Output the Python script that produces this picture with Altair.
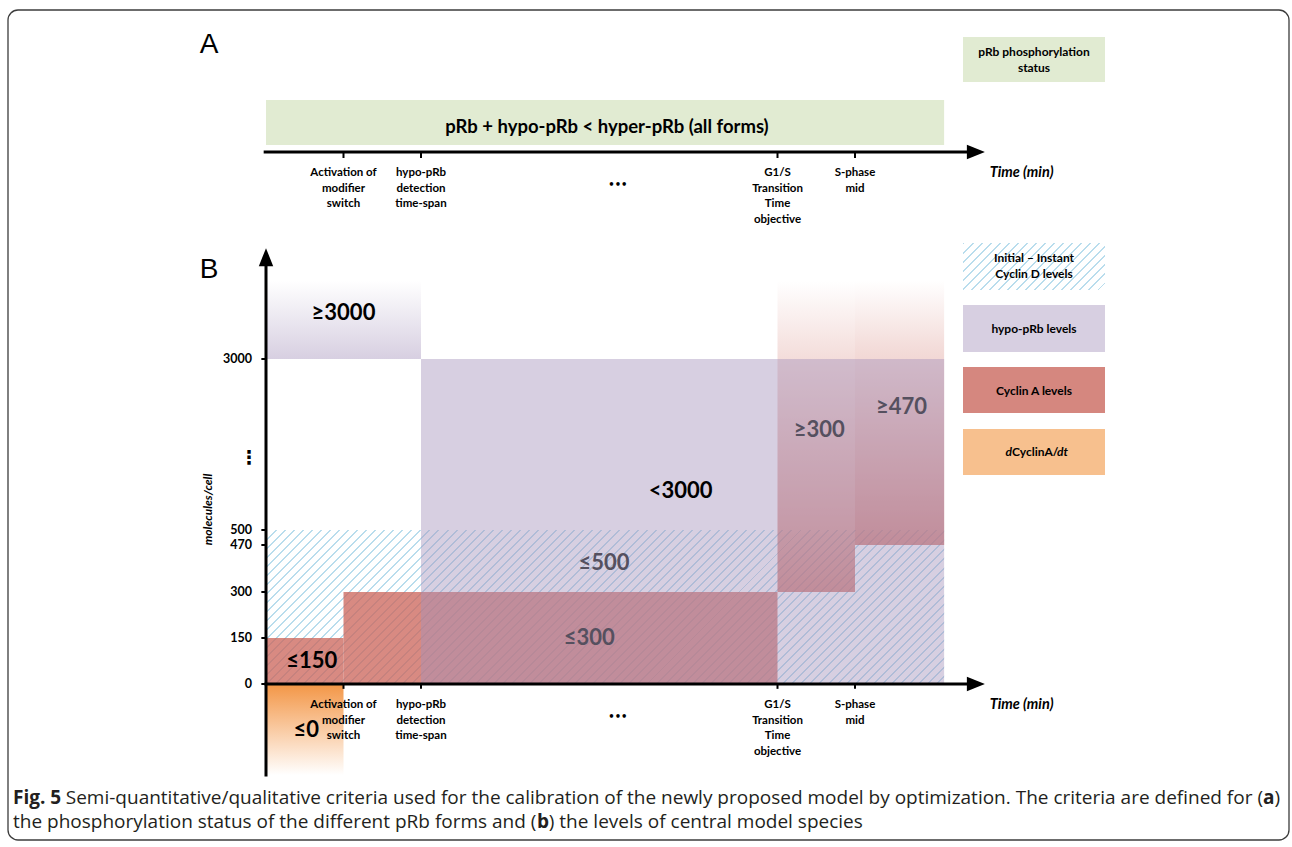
import altair as alt
import numpy as np
import pandas as pd

FONT = "Lato, 'DejaVu Sans', sans-serif"
CAPTION_FONT = "'Open Sans', 'Liberation Sans', sans-serif"

# ---------------------------------------------------------------------------
# Time axis: milestones of the cell cycle (schematic spacing, the long gap
# after the hypo-pRb milestone is elided with an ellipsis)
milestone_names = [
    "Activation of\nmodifier\nswitch",
    "hypo-pRb\ndetection\ntime-span",
    "G1/S\nTransition\nTime\nobjective",
    "S-phase\nmid",
]
milestone_t = [1.0, 2.0, 6.6, 7.6]
t_end = 8.75

# Molecule levels marked on the vertical axis
level_ticks = [0, 150, 300, 470, 500, 3000]

# Criteria per species: interval on the time axis, lower / upper bound
# (None = open-ended) and the printed constraint
cycd_t0, cycd_t1 = [0.0], [8.75]
cycd_lo, cycd_hi = [0], [500]
cycd_lab = ["≤500"]

hypo_t0, hypo_t1 = [0.0, 2.0], [2.0, 8.75]
hypo_lo, hypo_hi = [3000, 0], [None, 3000]
hypo_lab = ["≥3000", "<3000"]

cyca_t0, cyca_t1 = [0.0, 1.0, 6.6, 7.6], [1.0, 6.6, 7.6, 8.75]
cyca_lo, cyca_hi = [0, 0, 300, 470], [150, 300, None, None]
cyca_lab = ["≤150", "≤300", "≥300", "≥470"]

dcyca_t0, dcyca_t1 = [0.0], [1.0]
dcyca_lo, dcyca_hi = [None], [0]
dcyca_lab = ["≤0"]

# ---------------------------------------------------------------------------
# Scales: schematic time axis, and a piecewise (broken) molecule axis
X_DOMAIN, X_RANGE = [0, 10], [266, 1041]
Y_DOMAIN = [-300, 0, 300, 470, 500, 3000, 3340]
Y_RANGE = [775, 684, 592, 545, 530, 359, 248]
OPEN_TOP, OPEN_BOTTOM = 3240, -300   # how far open-ended bands fade out

XS = alt.Scale(domain=X_DOMAIN, range=X_RANGE, nice=False, zero=False)
YS = alt.Scale(domain=Y_DOMAIN, range=Y_RANGE, nice=False, zero=False)


def X(f):
    return alt.X(f, type="quantitative", scale=XS, axis=None)


def Y(f):
    return alt.Y(f, type="quantitative", scale=YS, axis=None)


def px_w(t0, t1):
    return (t1 - t0) * (X_RANGE[1] - X_RANGE[0]) / (X_DOMAIN[1] - X_DOMAIN[0])


def px_h(v0, v1):
    return abs(np.interp(v1, Y_DOMAIN, Y_RANGE) - np.interp(v0, Y_DOMAIN, Y_RANGE))


CLEAR = "rgba(255,255,255,0)"


def hatch(w, h, color, spacing=6.4, line=1.4):
    """Diagonal '/' hatching as a striped linear gradient over a w x h box."""
    span = w + h
    period = spacing * np.sqrt(2) / span
    on = line / spacing * period
    stops, a = [], 0.0
    while a < 1:
        b = min(a + on, 1.0)
        stops += [
            {"offset": round(a, 5), "color": CLEAR},
            {"offset": round(a, 5), "color": color},
            {"offset": round(b, 5), "color": color},
            {"offset": round(b, 5), "color": CLEAR},
        ]
        a += period
    k = span / (w * w + h * h)
    return {"gradient": "linear", "x1": 0, "y1": 0,
            "x2": round(k * w, 5), "y2": round(k * h, 5), "stops": stops}


def fade(rgb, alphas, upward=True):
    r, g, b = rgb
    return {"gradient": "linear", "x1": 0, "x2": 0,
            "y1": 1 if upward else 0, "y2": 0 if upward else 1,
            "stops": [{"offset": o, "color": f"rgba({r},{g},{b},{a})"} for o, a in alphas]}


HATCH = "rgba(80,170,210,0.40)"
RED_RGB, RED_A = (203, 99, 88), 0.75
LAV_RGB, LAV_A = (164, 146, 187), 0.44
ORANGE_RGB = (243, 150, 70)
GREEN = "#e1ebd2"
LABEL_GRAY = "#55505f"

one = pd.DataFrame({"k": [0]})
layers = []

# frame around the figure
layers.append(alt.Chart(one).mark_rect(
    fillOpacity=0, stroke="#3c3c3c", strokeWidth=1.3, cornerRadius=10
).encode(x=alt.value(8), x2=alt.value(1289), y=alt.value(10), y2=alt.value(840)))


def band(t0, t1, lo, hi, fill, opacity=1.0):
    df = pd.DataFrame({"t0": [t0], "t1": [t1], "lo": [lo], "hi": [hi]})
    return alt.Chart(df).mark_rect(fill=fill, opacity=opacity, strokeWidth=0).encode(
        x=X("t0"), x2=alt.X2("t1"), y=Y("lo"), y2=alt.Y2("hi"))


# ---- Panel B bands -------------------------------------------------------
# Initial / instant Cyclin D (hatched)
for t0, t1, lo, hi in zip(cycd_t0, cycd_t1, cycd_lo, cycd_hi):
    layers.append(band(t0, t1, lo, hi, hatch(px_w(t0, t1), px_h(lo, hi), HATCH)))

# Cyclin A levels
for t0, t1, lo, hi in zip(cyca_t0, cyca_t1, cyca_lo, cyca_hi):
    if hi is None:
        layers.append(band(t0, t1, lo, OPEN_TOP,
                           fade(RED_RGB, [(0, RED_A), (0.75, 0.22), (1, 0)])))
    else:
        layers.append(band(t0, t1, lo, hi, "rgb(%d,%d,%d)" % RED_RGB, RED_A))

# hypo-pRb levels
for t0, t1, lo, hi in zip(hypo_t0, hypo_t1, hypo_lo, hypo_hi):
    if hi is None:
        layers.append(band(t0, t1, lo, OPEN_TOP, fade(LAV_RGB, [(0, LAV_A), (1, 0)])))
    else:
        layers.append(band(t0, t1, lo, hi, "rgb(%d,%d,%d)" % LAV_RGB, LAV_A))

# dCyclinA/dt
for t0, t1, lo, hi in zip(dcyca_t0, dcyca_t1, dcyca_lo, dcyca_hi):
    layers.append(band(t0, t1, OPEN_BOTTOM, hi,
                       fade(ORANGE_RGB, [(0, 1), (1, 0)], upward=False)))

# ---- Panel B axes --------------------------------------------------------
AXIS_END = 9.1
layers.append(alt.Chart(pd.DataFrame({"t0": [-0.02], "t1": [AXIS_END], "v": [0]}))
              .mark_rule(color="black", strokeWidth=3)
              .encode(x=X("t0"), x2=alt.X2("t1"), y=Y("v")))
layers.append(alt.Chart(pd.DataFrame({"t": [0], "lo": [-305], "hi": [3300]}))
              .mark_rule(color="black", strokeWidth=3)
              .encode(x=X("t"), y=Y("lo"), y2=alt.Y2("hi")))

ARROW_R = "M -1 -0.8 L 1 0 L -1 0.8 Z"
ARROW_U = "M -0.8 1 L 0 -1 L 0.8 1 Z"
layers.append(alt.Chart(pd.DataFrame({"t": [9.16], "v": [0]}))
              .mark_point(shape=ARROW_R, size=324, filled=True, color="black", opacity=1)
              .encode(x=X("t"), y=Y("v")))
layers.append(alt.Chart(pd.DataFrame({"t": [0], "v": [3312]}))
              .mark_point(shape=ARROW_U, size=324, filled=True, color="black", opacity=1)
              .encode(x=X("t"), y=Y("v")))

# x ticks (panel B)
layers.append(alt.Chart(pd.DataFrame({"t": milestone_t, "lo": [0] * 4, "hi": [-16] * 4}))
              .mark_rule(color="black", strokeWidth=2)
              .encode(x=X("t"), y=Y("lo"), y2=alt.Y2("hi")))
# y ticks and labels
yt = pd.DataFrame({"v": level_ticks, "t0": [-0.06] * len(level_ticks),
                   "t1": [0] * len(level_ticks), "tl": [-0.18] * len(level_ticks),
                   "lab": [str(v) for v in level_ticks]})
layers.append(alt.Chart(yt).mark_rule(color="black", strokeWidth=2)
              .encode(x=X("t0"), x2=alt.X2("t1"), y=Y("v")))
layers.append(alt.Chart(yt).mark_text(font=FONT, fontSize=12.5, fontWeight="bold",
                                      align="right", baseline="middle", color="black")
              .encode(x=X("tl"), y=Y("v"), text="lab"))
layers.append(alt.Chart(pd.DataFrame({"t": [-0.22], "v": [1553]}))
              .mark_text(text="⋮", font="DejaVu Sans", fontSize=19, fontWeight="bold",
                         align="center", baseline="middle", color="black")
              .encode(x=X("t"), y=Y("v")))
layers.append(alt.Chart(pd.DataFrame({"t": [-0.75], "v": [800]}))
              .mark_text(text="molecules/cell", font=FONT, fontSize=12, fontWeight="bold",
                         fontStyle="italic", angle=270, align="center", baseline="middle",
                         color="black")
              .encode(x=X("t"), y=Y("v")))

# ---- band labels ---------------------------------------------------------
label_anchor = {
    "≥3000": (1.0, 3140, "black"), "<3000": (5.35, 1070, "black"),
    "≤500": (4.36, 405, LABEL_GRAY), "≤150": (0.59, 75, "black"),
    "≤300": (4.17, 150, LABEL_GRAY), "≥300": (7.14, 1960, LABEL_GRAY),
    "≥470": (8.2, 2300, LABEL_GRAY), "≤0": (0.52, -152, "black"),
}
all_labels = cycd_lab + hypo_lab + cyca_lab + dcyca_lab
lab_df = pd.DataFrame({
    "lab": all_labels,
    "t": [label_anchor[l][0] for l in all_labels],
    "v": [label_anchor[l][1] for l in all_labels],
    "c": [label_anchor[l][2] for l in all_labels],
})
layers.append(alt.Chart(lab_df).mark_text(font=FONT, fontSize=22, fontWeight="bold",
                                          align="center", baseline="middle")
              .encode(x=X("t"), y=Y("v"), text="lab",
                      color=alt.Color("c", type="nominal", scale=None)))

# ---- milestone labels (both panels) --------------------------------------
ms = pd.DataFrame({"t": milestone_t, "lab": milestone_names})
for top in (167, 699):
    layers.append(alt.Chart(ms).mark_text(font=FONT, fontSize=11.5, fontWeight="bold",
                                          align="center", baseline="top", lineBreak="\n",
                                          lineHeight=15.7, color="black")
                  .encode(x=X("t"), y=alt.value(top), text="lab"))
for yy in (185, 717):
    layers.append(alt.Chart(pd.DataFrame({"t": [4.54]}))
                  .mark_text(text="•••", font="DejaVu Sans", fontSize=10, fontWeight="bold",
                             align="center", baseline="middle", color="black")
                  .encode(x=X("t"), y=alt.value(yy)))
    layers.append(alt.Chart(pd.DataFrame({"t": [9.75]}))
                  .mark_text(text="Time (min)", font=FONT, fontSize=14.5, fontWeight="bold",
                             fontStyle="italic", align="center", baseline="middle",
                             color="black")
                  .encode(x=X("t"), y=alt.value(yy - 12)))

# ---- Panel A --------------------------------------------------------------
layers.append(alt.Chart(pd.DataFrame({"t0": [0.0], "t1": [t_end]}))
              .mark_rect(fill=GREEN)
              .encode(x=X("t0"), x2=alt.X2("t1"), y=alt.value(100), y2=alt.value(145)))
layers.append(alt.Chart(pd.DataFrame({"t": [4.4]}))
              .mark_text(text="pRb + hypo-pRb < hyper-pRb (all forms)", font=FONT,
                         fontSize=18.5, fontWeight="bold", align="center",
                         baseline="middle", color="black")
              .encode(x=X("t"), y=alt.value(127)))
layers.append(alt.Chart(pd.DataFrame({"t0": [-0.03], "t1": [AXIS_END]}))
              .mark_rule(color="black", strokeWidth=3)
              .encode(x=X("t0"), x2=alt.X2("t1"), y=alt.value(152)))
layers.append(alt.Chart(pd.DataFrame({"t": [9.16]}))
              .mark_point(shape=ARROW_R, size=324, filled=True, color="black", opacity=1)
              .encode(x=X("t"), y=alt.value(152)))
layers.append(alt.Chart(ms).mark_rule(color="black", strokeWidth=2)
              .encode(x=X("t"), y=alt.value(152), y2=alt.value(158)))

# panel letters
for letter, yy in (("A", 45), ("B", 270)):
    layers.append(alt.Chart(one).mark_text(text=letter, font="'Liberation Sans', Arial",
                                           fontSize=28, align="center", baseline="middle",
                                           color="black")
                  .encode(x=alt.value(209), y=alt.value(yy)))

# ---- legend boxes ---------------------------------------------------------
LX0, LX1 = 963, 1105


def legend_box(y0, y1, fill):
    return alt.Chart(one).mark_rect(fill=fill, strokeWidth=0).encode(
        x=alt.value(LX0), x2=alt.value(LX1), y=alt.value(y0), y2=alt.value(y1))


def legend_text(text, y, style="normal", align="center", x=(LX0 + LX1) / 2):
    return alt.Chart(one).mark_text(text=text, font=FONT, fontSize=12, fontWeight="bold",
                                    fontStyle=style, align=align, baseline="middle",
                                    lineBreak="\n", lineHeight=15.5, color="black").encode(
        x=alt.value(x), y=alt.value(y))


layers += [
    legend_box(37, 82, GREEN),
    legend_text("pRb phosphorylation\nstatus", 52),
    legend_box(243, 290, hatch(LX1 - LX0, 47, HATCH)),
    legend_text("Initial – Instant\nCyclin D levels", 258),
    legend_box(305, 352, "#d7cfe1"),
    legend_text("hypo-pRb levels", 329),
    legend_box(367, 413, "#d5877f"),
    legend_text("Cyclin A levels", 391),
    legend_box(429, 475, "#f7c08e"),
    legend_text("d", 452, "italic", "right", 1012),
    legend_text("CyclinA/", 452, "normal", "left", 1012),
    legend_text("dt", 452, "italic", "left", 1057),
]

# ---- caption --------------------------------------------------------------
CAP_SIZE = 19.0


def cap(text, x, y, weight="normal", align="left"):
    return alt.Chart(one).mark_text(text=text, font=CAPTION_FONT, fontSize=CAP_SIZE,
                                    fontWeight=weight, align=align, baseline="middle",
                                    color="#231f20").encode(x=alt.value(x), y=alt.value(y))


B_X = 537
layers += [
    cap("Fig. 5", 13, 798, "bold"),
    cap("Semi-quantitative/qualitative criteria used for the calibration of the newly "
        "proposed model by optimization. The criteria are defined for (", 1263, 798,
        align="right"),
    cap("a", 1263, 798, "bold"),
    cap(")", 1274.5, 798),
    cap("the phosphorylation status of the different pRb forms and (", 13, 822),
    cap("b", B_X, 822, "bold"),
    cap(") the levels of central model species", B_X + 11.8, 822),
]

chart = alt.layer(*layers).properties(
    width=1292, height=847,
    autosize=alt.AutoSizeParams(type="none"),
    padding=0,
    background="white",
).configure_view(stroke=None)

chart.save("out.html", embed_options={"renderer": "svg", "actions": False})
